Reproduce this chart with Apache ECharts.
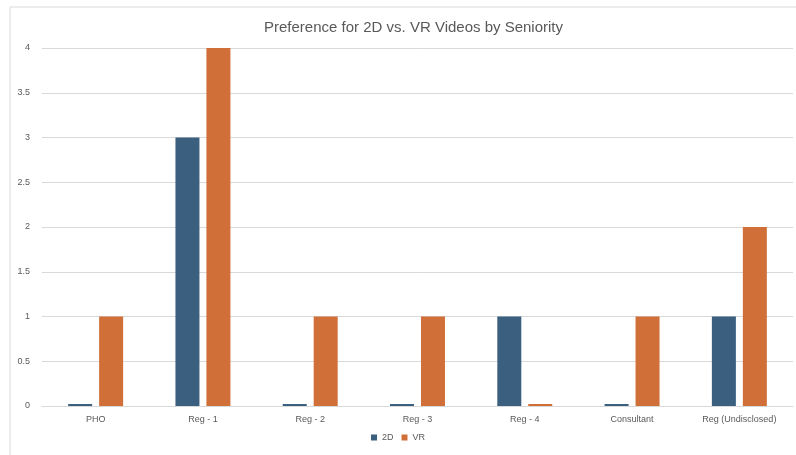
<!DOCTYPE html>
<html>
<head>
<meta charset="utf-8">
<script src="https://cdn.jsdelivr.net/npm/echarts@6/dist/echarts.min.js"></script>
<style>
  html, body { margin: 0; padding: 0; background: #fff; }
  #chart { width: 796px; height: 455px; }
</style>
</head>
<body>
<div id="chart"></div>
<script>
// Respondent counts per seniority level
const categories = ['PHO', 'Reg - 1', 'Reg - 2', 'Reg - 3', 'Reg - 4', 'Consultant', 'Reg (Undisclosed)'];
const pref2D = [0, 3, 0, 0, 1, 0, 1];
const prefVR = [1, 4, 1, 1, 0, 1, 2];
const yTicks = { min: 0, max: 4, step: 0.5 };

const chart = echarts.init(document.getElementById('chart'), null, { renderer: 'canvas' });
const textColor = '#595959';
const font = '"Liberation Sans", "DejaVu Sans", sans-serif';

chart.setOption({
  backgroundColor: '#ffffff',
  animation: false,
  graphic: [{
    type: 'rect',
    shape: { x: 10, y: 7, width: 800, height: 460 },
    style: { fill: 'none', stroke: '#d9d9d9', lineWidth: 1 },
    silent: true
  }],
  title: {
    text: 'Preference for 2D vs. VR Videos by Seniority',
    left: 259,
    top: 15,
    textStyle: { color: textColor, fontSize: 15, fontWeight: 'normal', fontFamily: font }
  },
  legend: {
    bottom: 8,
    left: 'center',
    itemWidth: 6,
    itemHeight: 6,
    itemGap: 8,
    icon: 'rect',
    textStyle: { color: textColor, fontSize: 9, fontFamily: font },
    data: ['2D', 'VR']
  },
  grid: { left: 42, right: 3, top: 48, bottom: 49, containLabel: false },
  xAxis: {
    type: 'category',
    data: categories,
    axisTick: { show: false },
    axisLine: { lineStyle: { color: '#d9d9d9' } },
    axisLabel: { color: textColor, fontSize: 9, fontFamily: font, margin: 9, interval: 0 }
  },
  yAxis: {
    type: 'value',
    min: yTicks.min,
    max: yTicks.max,
    interval: yTicks.step,
    axisLine: { show: false },
    axisTick: { show: false },
    splitLine: { lineStyle: { color: '#d9d9d9' } },
    axisLabel: { color: textColor, fontSize: 9, fontFamily: font, margin: 12 }
  },
  series: [
    {
      name: '2D', type: 'bar', data: pref2D,
      barWidth: 24, barGap: '29%', barMinHeight: 2,
      itemStyle: { color: '#3a5f7f' }
    },
    {
      name: 'VR', type: 'bar', data: prefVR,
      barWidth: 24, barMinHeight: 2,
      itemStyle: { color: '#d06f38' }
    }
  ]
});
</script>
</body>
</html>
